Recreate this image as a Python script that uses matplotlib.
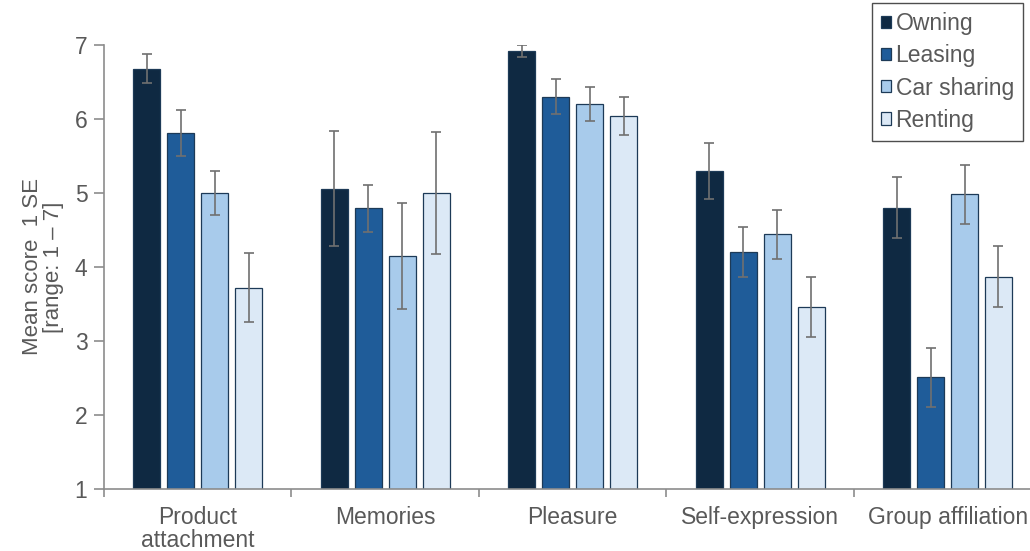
import numpy as np
import matplotlib.pyplot as plt

plt.rcParams['font.family'] = ['Liberation Sans', 'DejaVu Sans']

categories = ['Product\nattachment', 'Memories', 'Pleasure', 'Self-expression', 'Group affiliation']
groups = ['Owning', 'Leasing', 'Car sharing', 'Renting']

means = {
    'Owning':      [6.68, 5.06, 6.92, 5.30, 4.80],
    'Leasing':     [5.81, 4.79, 6.30, 4.20, 2.51],
    'Car sharing': [5.00, 4.15, 6.20, 4.44, 4.98],
    'Renting':     [3.72, 5.00, 6.04, 3.46, 3.87],
}
se = {
    'Owning':      [0.20, 0.78, 0.08, 0.38, 0.41],
    'Leasing':     [0.31, 0.32, 0.24, 0.34, 0.40],
    'Car sharing': [0.30, 0.72, 0.23, 0.33, 0.40],
    'Renting':     [0.47, 0.83, 0.26, 0.41, 0.41],
}
colors = ['#0f2942', '#1f5c99', '#a8cbeb', '#dce9f6']

fig = plt.figure(figsize=(10.3, 5.51), dpi=100)
ax = fig.add_axes([0.101, 0.1125, 0.91, 0.806])

x = np.arange(len(categories))
pitch = 0.181
width = 0.144
for i, g in enumerate(groups):
    ax.bar(x + (i - 1.5) * pitch, means[g], width, bottom=0,
           color=colors[i], edgecolor='#1d3a57', linewidth=0.9, label=g, zorder=2)
    ax.errorbar(x + (i - 1.5) * pitch, means[g], yerr=se[g], fmt='none',
                ecolor='#707070', elinewidth=1.2, capsize=3.5, capthick=1.2, zorder=3)

ax.set_ylim(1, 7)
ax.set_xlim(-0.5, len(categories) - 0.5)
ax.set_yticks(range(1, 8))
ax.set_xticks(x)
ax.set_xticklabels(categories)
ax.set_xticks(np.arange(-0.5, len(categories), 1.0), minor=True)

for s in ['top', 'right']:
    ax.spines[s].set_visible(False)
for s in ['left', 'bottom']:
    ax.spines[s].set_color('#8c8c8c')
    ax.spines[s].set_linewidth(1.2)

ax.tick_params(axis='y', labelsize=16.5, colors='#595959', length=7, width=1.2,
               direction='out', color='#8c8c8c', pad=5)
ax.tick_params(axis='x', which='major', labelsize=16.5, colors='#595959', length=0, pad=12)
ax.tick_params(axis='x', which='minor', length=6, width=1.2, color='#8c8c8c', direction='out')
for lbl in ax.get_xticklabels():
    lbl.set_linespacing(1.0)

ax.set_ylabel('Mean score  1 SE\n[range: 1 \u2013 7]', fontsize=16, color='#595959',
              labelpad=8, linespacing=1.0)

leg = ax.legend(loc='upper right', bbox_to_anchor=(1.0 - 7 / 1030, 1 - 3 / 551),
                bbox_transform=fig.transFigure, fontsize=16.5, frameon=True,
                fancybox=False, edgecolor='#222222', handlelength=0.45, handleheight=0.45,
                handletextpad=0.2, labelspacing=0.4, borderpad=0.4, borderaxespad=0)
leg.get_frame().set_linewidth(1.0)
for t in leg.get_texts():
    t.set_color('#595959')

fig.savefig('out.png', dpi=100)
